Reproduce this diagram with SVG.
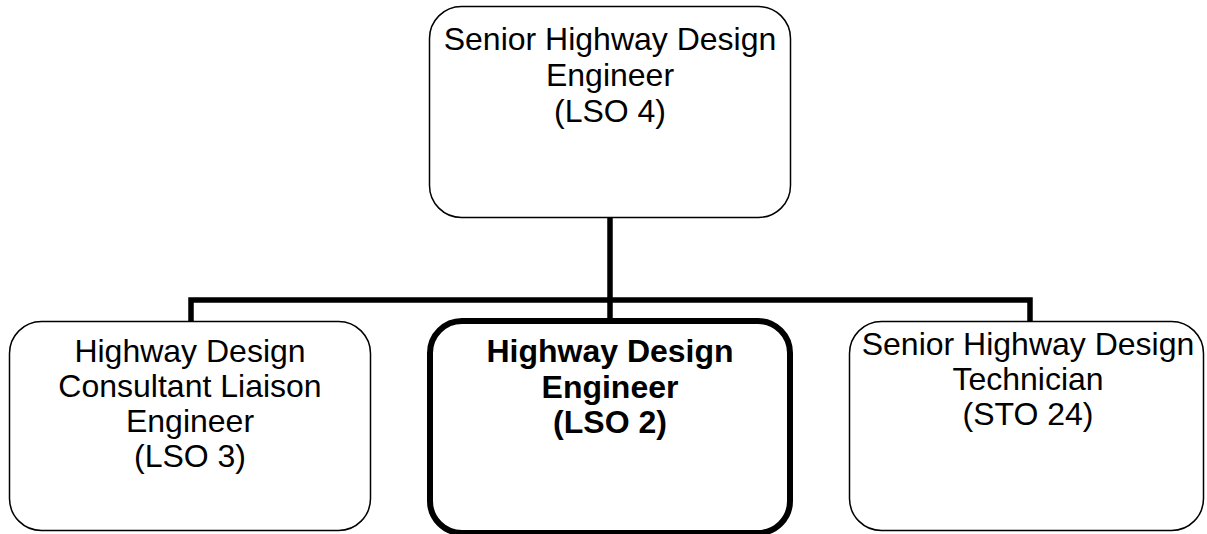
<svg xmlns="http://www.w3.org/2000/svg" width="1207" height="534" viewBox="0 0 1207 534">
<style>
.box{fill:#fff;stroke:#000;stroke-width:1.5}
.bold{fill:#fff;stroke:#000;stroke-width:6}
.t{font-family:"Liberation Sans",Arial,sans-serif;font-size:32px;fill:#000;text-anchor:middle}
.tb{font-weight:bold}
.c{fill:none;stroke:#000;stroke-width:5.5}
</style>
<rect width="1207" height="534" fill="#fff"/>
<g id="connectors">
<line class="c" x1="610" y1="217" x2="610" y2="322"/>
<polyline class="c" points="191,322 191,300 1030,300 1030,322"/>
</g>
<g id="n-senior-engineer">
<rect class="box" x="429.5" y="6.5" width="361" height="211" rx="32"/>
<text class="t" x="610" y="50">Senior Highway Design</text>
<text class="t" x="610" y="86">Engineer</text>
<text class="t" x="610" y="122">(LSO 4)</text>
</g>
<g id="n-consultant-liaison">
<rect class="box" x="9.5" y="321.5" width="361" height="209" rx="32"/>
<text class="t" x="190" y="362">Highway Design</text>
<text class="t" x="190" y="397">Consultant Liaison</text>
<text class="t" x="190" y="432">Engineer</text>
<text class="t" x="190" y="467">(LSO 3)</text>
</g>
<g id="n-design-engineer">
<rect class="bold" x="430" y="321" width="360" height="212" rx="32"/>
<text class="t tb" x="610" y="362">Highway Design</text>
<text class="t tb" x="610" y="398">Engineer</text>
<text class="t tb" x="610" y="433">(LSO 2)</text>
</g>
<g id="n-senior-technician">
<rect class="box" x="849.5" y="321.5" width="354" height="209" rx="32"/>
<text class="t" x="1028" y="355">Senior Highway Design</text>
<text class="t" x="1028" y="390">Technician</text>
<text class="t" x="1028" y="425">(STO 24)</text>
</g>
</svg>
